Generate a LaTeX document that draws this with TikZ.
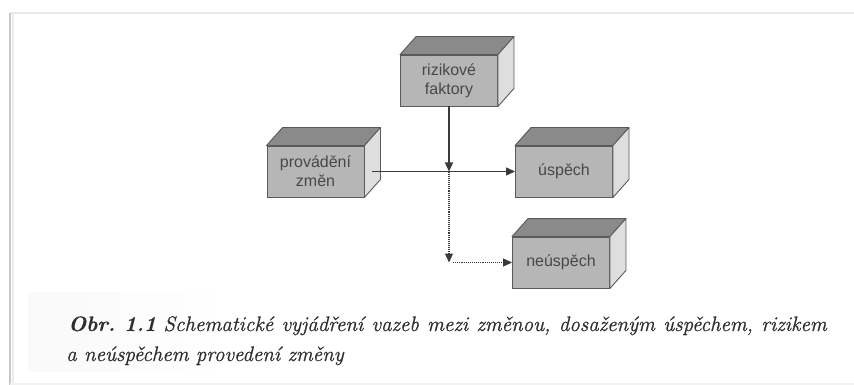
\documentclass[tikz,border=0pt]{standalone}
\usepackage{fontspec}
\newfontfamily\boxfont{Liberation Sans}
\newfontfamily\capfont{Latin Modern Roman}[
  ItalicFeatures={FakeBold=0.8},
  BoldItalicFeatures={FakeBold=0.3}]
\usetikzlibrary{arrows.meta,calc}

\definecolor{facefront}{HTML}{B6B6B6}
\definecolor{facetop}{HTML}{8A8A8A}
\definecolor{faceside}{HTML}{DEDEDE}
\definecolor{edgecol}{HTML}{5A5A5A}
\definecolor{inkcol}{HTML}{3A3A3A}
\definecolor{boxink}{HTML}{484848}

\tikzset{
  cubefront/.style={draw=edgecol, line width=0.9pt, fill=facefront,
    minimum width=97pt, minimum height=51pt, inner sep=0pt,
    align=center, text=boxink,
    font=\boxfont\fontsize{16}{19}\selectfont},
  cubetopface/.style={draw=edgecol, line width=0.9pt, fill=facetop, line join=round},
  cubesideface/.style={draw=edgecol, line width=0.9pt, fill=faceside, line join=round},
  flow/.style={draw=inkcol, line width=1.1pt,
    -{Triangle[length=9pt,width=8pt]}},
  flowdotted/.style={draw=inkcol, line width=1.1pt, densely dotted,
    -{Triangle[length=9pt,width=8pt]}},
  framerule/.style={draw=#1, line width=1.2pt},
  captext/.style={anchor=base west, inner sep=0pt, text=black!82,
    font=\capfont\frenchspacing\fontsize{21}{30}\selectfont},
}

% top and right faces of a cuboid whose front face is node #1
\newcommand{\cubedepth}[1]{%
  \filldraw[cubetopface] (#1.north west) -- ++(16,-18)
    -- ($(#1.north east)+(16,-18)$) -- (#1.north east) -- cycle;
  \filldraw[cubesideface] (#1.north east) -- ++(16,-18)
    -- ($(#1.south east)+(16,-18)$) -- (#1.south east) -- cycle;
}

\begin{document}
\begin{tikzpicture}[x=1pt,y=-1pt]
  \useasboundingbox (0,0) rectangle (854,385);
  \fill[white] (0,0) rectangle (854,385);

  % page frame
  \draw[framerule=gray!18] (10,13) -- (854,13);
  \draw[framerule=gray!45] (10,13) -- (10,385);
  \draw[draw=gray!15, line width=2pt] (12.5,14) -- (12.5,385);
  \draw[framerule=gray!10] (10,384) -- (854,384);

  % faint tint behind the caption
  \shade[left color=gray!5, right color=white] (28,292) rectangle (230,371);

  % cuboids
  \node[cubefront] (riz) at (449,80.5) {rizikové\\faktory};
  \cubedepth{riz}
  \node[cubefront] (prov) at (315.5,171.5) {provádění\\změn};
  \cubedepth{prov}
  \node[cubefront] (usp) at (564,171.5) {úspěch};
  \cubedepth{usp}
  \node[cubefront] (neu) at (561,262.5) {neúspěch};
  \cubedepth{neu}

  % junction points of the connectors
  \coordinate (j) at (riz.south |- prov.east);
  \coordinate (k) at (riz.south |- neu.west);

  % connectors
  \draw[flow] ([xshift=8pt]prov.east) -- (usp.west);
  \draw[flow] (riz.south) -- (j);
  \draw[flowdotted] (j) -- (k);
  \draw[flowdotted] ([xshift=4pt]k) -- (neu.west);

  % caption
  \node[captext] (cap1) at (68,331)
    {\makebox[759pt][s]{\mbox{\textbf{\textit{Obr. 1.1}}} \textit{Schematické vyjádření vazeb mezi změnou, dosaženým úspěchem, rizikem}}};
  \node[captext] (cap2) at (66,361)
    {\textit{a neúspěchem provedení změny}};
\end{tikzpicture}
\end{document}
